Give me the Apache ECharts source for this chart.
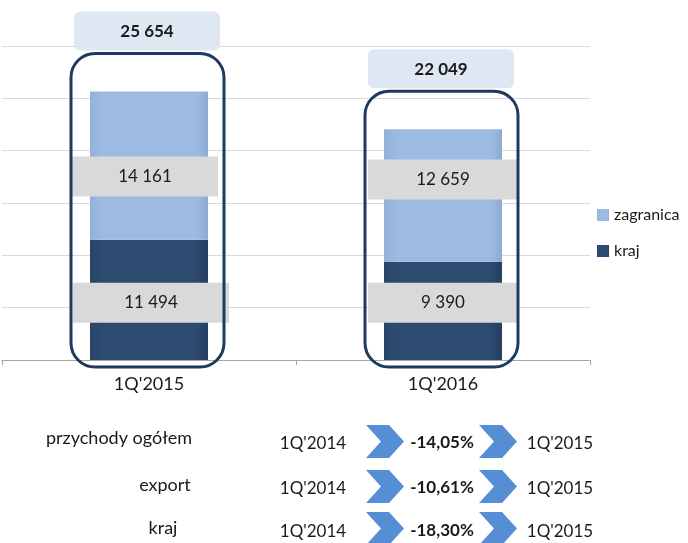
<!DOCTYPE html>
<html><head><meta charset="utf-8">
<script src="https://cdn.jsdelivr.net/npm/echarts@6/dist/echarts.min.js"></script>
<style>html,body{margin:0;padding:0;background:#fff}#c{width:688px;height:543px}</style>
</head><body><div id="c"></div>
<script>
const categories = ["1Q'2015", "1Q'2016"];
const kraj = [11494, 9390];
const zagranica = [14161, 12659];
const totals = [25654, 22049];

const rowLabels = ['przychody ogółem', 'export', 'kraj'];
const fromPeriods = ["1Q'2014", "1Q'2014", "1Q'2014"];
const changes = ['-14,05%', '-10,61%', '-18,30%'];
const toPeriods = ["1Q'2015", "1Q'2015", "1Q'2015"];

const FONT = 'Lato, "Liberation Sans", sans-serif';
function fmt(v){ return String(v).replace(/\B(?=(\d{3})+(?!\d))/g, ' '); }

const chart = echarts.init(document.getElementById('c'));

function barLabel(extra) {
  return Object.assign({
    show: true, position: 'inside',
    formatter: p => fmt(p.value),
    backgroundColor: '#d9d9d9', width: 146, height: 40, lineHeight: 40,
    align: 'center', verticalAlign: 'middle',
    fontFamily: FONT, fontSize: 17, color: '#1a1a1a'
  }, extra || {});
}
// label placement tweaks (layout only, not data)
const krajItems = kraj.map((v, i) => ({ value: v,
  label: i === 0 ? { offset: [2, 3], width: 156 } : { offset: [0, -8], width: 150 } }));
const zagItems = zagranica.map((v, i) => ({ value: v,
  label: i === 0 ? { offset: [-4, 11] } : { offset: [0, -16], width: 150 } }));

// bottom table
const textY = [444, 489, 532];
const labelY = [438, 485, 528];
const chevTop = [425, 470, 512];
const labelX = [119, 165, 163];
const graphics = [];
function chevron(x, t) {
  return { type: 'polygon', shape: { points: [[x, t],[x+23, t],[x+38, t+16.5],[x+23, t+33],[x, t+33],[x+15, t+16.5]] },
    style: { fill: '#558ed5' } };
}
rowLabels.forEach((lab, i) => {
  graphics.push({ type: 'text', x: labelX[i], y: labelY[i], style: { text: lab, textAlign: 'center', textVerticalAlign: 'middle', font: '18px ' + FONT, fill: '#1a1a1a' } });
  graphics.push({ type: 'text', x: 313, y: textY[i], style: { text: fromPeriods[i], textAlign: 'center', textVerticalAlign: 'middle', font: '17px ' + FONT, fill: '#1a1a1a' } });
  graphics.push(chevron(366, chevTop[i]));
  graphics.push({ type: 'text', x: 442, y: textY[i] - 1, style: { text: changes[i], textAlign: 'center', textVerticalAlign: 'middle', font: 'bold 17px ' + FONT, fill: '#1a1a1a' } });
  graphics.push(chevron(479, chevTop[i]));
  graphics.push({ type: 'text', x: 560, y: textY[i], style: { text: toPeriods[i], textAlign: 'center', textVerticalAlign: 'middle', font: '17px ' + FONT, fill: '#1a1a1a' } });
});

chart.setOption({
  animation: false,
  textStyle: { fontFamily: FONT },
  grid: { left: 2, right: 98, top: 46, bottom: 183, containLabel: false },
  legend: {
    orient: 'vertical', left: 592, top: 202, itemGap: 20,
    itemWidth: 12, itemHeight: 12, icon: 'rect',
    data: ['zagranica', 'kraj'],
    textStyle: { fontSize: 16, color: '#1a1a1a', fontFamily: FONT }
  },
  xAxis: {
    type: 'category', data: categories,
    axisLine: { lineStyle: { color: '#a6a6a6' } },
    axisTick: { show: true, length: 5, lineStyle: { color: '#a6a6a6' } },
    axisLabel: { fontSize: 18, color: '#1a1a1a', margin: 15, fontFamily: FONT }
  },
  yAxis: {
    type: 'value', min: 0, max: 30000, interval: 5000,
    axisLabel: { show: false }, axisLine: { show: false }, axisTick: { show: false },
    splitLine: { lineStyle: { color: '#d9d9d9', width: 1 } }
  },
  series: [
    { name: 'kraj', type: 'bar', stack: 's', barWidth: 118, data: krajItems,
      itemStyle: { color: new echarts.graphic.LinearGradient(0,0,1,0,[{offset:0,color:'#2a4468'},{offset:0.1,color:'#2d4a70'},{offset:0.9,color:'#2d4a70'},{offset:1,color:'#253d5f'}]) },
      label: barLabel(), z: 2 },
    { name: 'zagranica', type: 'bar', stack: 's', barWidth: 118, data: zagItems,
      itemStyle: { color: new echarts.graphic.LinearGradient(0,0,1,0,[{offset:0,color:'#93b1d8'},{offset:0.1,color:'#9dbbe2'},{offset:0.9,color:'#9dbbe2'},{offset:1,color:'#8eaad0'}]) },
      label: barLabel(), z: 2 },
    { name: 'frame', type: 'custom', z: 10, silent: true,
      data: totals.map((t, i) => [i, t]),
      renderItem: function (params, api) {
        const top = api.coord([api.value(0), api.value(1)]);
        const base = api.coord([api.value(0), 0]);
        const cx = top[0] - 2;
        const fy = top[1] - 38;
        return { type: 'group', children: [
          { type: 'rect', shape: { x: cx - 76, y: fy, width: 153, height: base[1] + 7 - fy, r: 24 },
            style: { fill: 'none', stroke: '#1f3a60', lineWidth: 3 } },
          { type: 'rect', shape: { x: cx - 73, y: top[1] - 80, width: 146, height: 39, r: 6 },
            style: { fill: '#dfe7f3' } },
          { type: 'text', x: cx, y: top[1] - 60,
            style: { text: fmt(api.value(1)), textAlign: 'center', textVerticalAlign: 'middle', font: 'bold 17px ' + FONT, fill: '#1a1a1a' } }
        ] };
      }
    }
  ],
  graphic: graphics
});
</script></body></html>
